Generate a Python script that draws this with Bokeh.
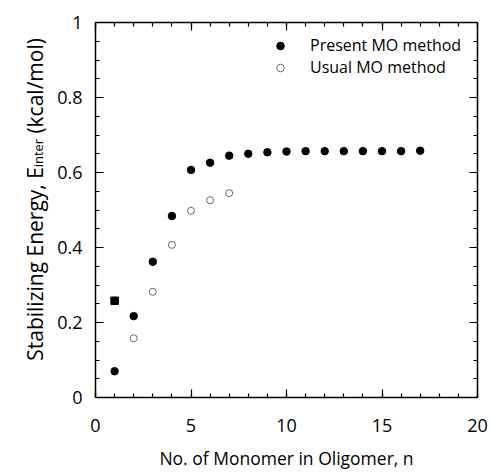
import math
from bokeh.plotting import figure
from bokeh.layouts import row
from bokeh.models import (FixedTicker, LinearAxis, Legend, LegendItem, Range1d,
                          ColumnDataSource)
from bokeh.core.properties import value
from bokeh.embed import file_html
from bokeh.resources import INLINE

# ---- data ----
n_present = [1, 2, 3, 4, 5, 6, 7, 8, 9, 10, 11, 12, 13, 14, 15, 16, 17]
e_present = [0.070, 0.217, 0.362, 0.484, 0.607, 0.626, 0.645, 0.650, 0.654,
             0.656, 0.657, 0.657, 0.657, 0.657, 0.657, 0.657, 0.658]
n_usual = [2, 3, 4, 5, 6, 7]
e_usual = [0.158, 0.282, 0.407, 0.498, 0.526, 0.545]
n_square = [1]
e_square = [0.258]

x_major = [0, 5, 10, 15, 20]
x_labels = ["0", "5", "10", "15", "20"]
x_minor = list(range(0, 21))
y_major = [0, 0.2, 0.4, 0.6, 0.8, 1.0]
y_labels = ["0", "0.2", "0.4", "0.6", "0.8", "1"]
y_minor = [round(0.05 * i, 2) for i in range(21)]

x_title = "No. of Monomer in Oligomer, n"
y_title_parts = ["Stabilizing Energy, E", "inter", "(kcal/mol)"]
legend_labels = ["Present MO method", "Usual MO method"]

FONT = "Open Sans"
W, H = 492, 472
LW = 52                      # strip holding the y title
B_TOP, B_BOT = 22, 72        # borders above / below the plot frame
FH = H - B_TOP - B_BOT       # frame height in pixels

p = figure(width=W - LW, height=H, output_backend="svg", toolbar_location=None,
           x_range=Range1d(0, 20), y_range=Range1d(0, 1),
           min_border_left=95 - LW, min_border_right=15, min_border_top=B_TOP,
           min_border_bottom=B_BOT, x_axis_type=None, y_axis_type=None)
p.outline_line_color = None


def make_axis(ticks, minor, labels=None, show=True):
    ax = LinearAxis(ticker=FixedTicker(ticks=ticks, minor_ticks=minor))
    ax.axis_line_color = "black"
    ax.axis_line_width = 1.5
    ax.major_tick_in = 8
    ax.major_tick_out = 0
    ax.minor_tick_in = 4
    ax.minor_tick_out = 0
    ax.major_tick_line_width = 1.2
    ax.minor_tick_line_width = 1.2
    ax.major_tick_line_color = "black"
    ax.minor_tick_line_color = "black"
    ax.major_label_text_font = FONT
    ax.major_label_text_color = "black"
    if show:
        ax.major_label_text_font_size = "18px"
        ax.major_label_overrides = {t: l for t, l in zip(ticks, labels)}
    else:
        ax.major_label_text_font_size = "8px"
        ax.major_label_standoff = 0
        ax.major_label_overrides = {t: "" for t in ticks}
    return ax


xb = make_axis(x_major, x_minor, x_labels)
xb.major_label_standoff = 21
xb.axis_label = x_title
xb.axis_label_text_font = FONT
xb.axis_label_text_font_size = "17.5px"
xb.axis_label_text_font_style = "normal"
xb.axis_label_text_color = "black"
xb.axis_label_standoff = 11
p.add_layout(xb, "below")

yl = make_axis(y_major, y_minor, y_labels)
yl.major_label_standoff = 13
p.add_layout(yl, "left")

p.add_layout(make_axis(x_major, x_minor, show=False), "above")
p.add_layout(make_axis(y_major, y_minor, show=False), "right")

r1 = p.scatter(n_present, e_present, size=7.5, marker="circle",
               fill_color="black", line_color="black")
r2 = p.scatter(n_usual, e_usual, size=7, marker="circle",
               fill_color="white", line_color="#444444", line_width=0.8)
p.scatter(n_square, e_square, size=7.5, marker="square",
          fill_color="black", line_color="black")

legend = Legend(items=[LegendItem(label=legend_labels[0], renderers=[r1]),
                       LegendItem(label=legend_labels[1], renderers=[r2])],
                location=(175, 319), orientation="vertical")
legend.border_line_color = None
legend.background_fill_alpha = 0
legend.padding = 0
legend.margin = 0
legend.spacing = 0
legend.glyph_width = 20
legend.glyph_height = 19
legend.label_height = 19
legend.label_standoff = 20
legend.label_text_font = FONT
legend.label_text_font_size = "16px"
legend.label_text_color = "black"
p.add_layout(legend, "center")

# ---- y title strip: pixel coords, x from strip left, y up from frame bottom ----
t = figure(width=LW, height=H, output_backend="svg", toolbar_location=None,
           x_range=Range1d(0, LW), y_range=Range1d(0, FH),
           min_border_left=0, min_border_right=0, min_border_top=B_TOP,
           min_border_bottom=B_BOT, x_axis_type=None, y_axis_type=None)
t.outline_line_color = None
t.grid.visible = False
bottom_px = H - B_BOT        # page y of the frame bottom
src = ColumnDataSource(dict(
    x=[34, 37.5, 34],
    y=[bottom_px - 363, bottom_px - 168, bottom_px - 134],
    text=y_title_parts,
    size=["21px", "13px", "21px"],
))
t.text(x="x", y="y", text="text", source=src, angle=math.pi / 2,
       text_font=value(FONT), text_font_size="size", text_color="black",
       text_baseline="alphabetic", text_align="left")

layout = row(t, p, spacing=0)
open("out.html", "w").write(file_html(layout, INLINE))
